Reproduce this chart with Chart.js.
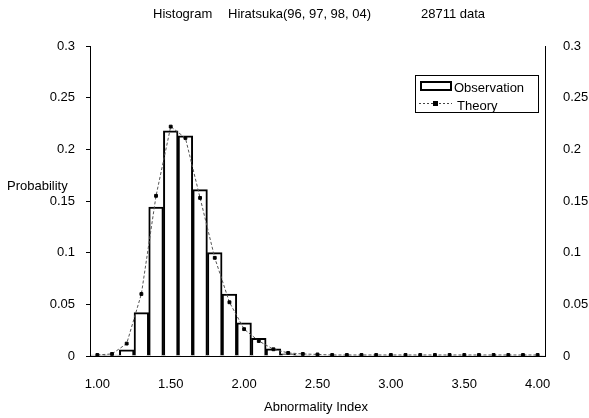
<!DOCTYPE html>
<html>
<head>
<meta charset="utf-8">
<script src="https://cdn.jsdelivr.net/npm/chart.js@4/dist/chart.umd.min.js"></script>
<style>
  html, body { margin: 0; padding: 0; background: #fff; }
  #wrap { width: 589px; height: 418px; }
</style>
</head>
<body>
<div id="wrap"><canvas id="histo" width="589" height="418"></canvas></div>
<script>
// abnormality index bins (0.1 wide)
const categories = [
    "1.00", "1.10", "1.20", "1.30", "1.40", "1.50", "1.60", "1.70", "1.80", "1.90",
    "2.00", "2.10", "2.20", "2.30", "2.40", "2.50", "2.60", "2.70", "2.80", "2.90",
    "3.00", "3.10", "3.20", "3.30", "3.40", "3.50", "3.60", "3.70", "3.80", "3.90",
    "4.00"
];
const tickLabels = ["1.00", "1.50", "2.00", "2.50", "3.00", "3.50", "4.00"];

const observation = [
    0.001, 0.001, 0.006, 0.042, 0.144, 0.218, 0.213, 0.161, 0.100, 0.060,
    0.032, 0.017, 0.007, 0.002, 0.001, 0.0005, 0.0005, 0.0005, 0.0005, 0.0005,
    0.0005, 0.0005, 0.0005, 0.0005, 0.0005, 0.0005, 0.0005, 0.0005, 0.0005, 0.0005,
    0.0005
];
const theory = [
    0.001, 0.002, 0.012, 0.060, 0.155, 0.222, 0.211, 0.153, 0.095, 0.052,
    0.026, 0.0145, 0.0065, 0.003, 0.002, 0.0015, 0.001, 0.001, 0.001, 0.001,
    0.001, 0.001, 0.001, 0.001, 0.001, 0.001, 0.001, 0.001, 0.001, 0.001,
    0.001
];

const FONT = "'Liberation Sans', Arial, sans-serif";

// titles and the boxed legend are drawn by hand
const extras = {
    id: "extras",
    afterDraw(chart) {
        const c = chart.ctx;
        c.save();
        c.fillStyle = "#000";
        c.font = "13px " + FONT;
        c.textBaseline = "middle";
        c.textAlign = "left";
        c.fillText("Histogram", 153, 14);
        c.fillText("Hiratsuka(96, 97, 98, 04)", 228, 14);
        c.fillText("28711 data", 421, 14);
        c.textAlign = "center";
        c.fillText("Abnormality Index", 316, 407);
        c.textAlign = "left";
        c.fillText("Probability", 7, 186);

        // legend
        c.strokeStyle = "#000";
        c.lineWidth = 1;
        c.strokeRect(415.5, 75.5, 123, 37);
        c.fillStyle = "#fff";
        c.lineWidth = 2;
        c.fillRect(421, 82, 30, 8);
        c.strokeRect(421, 82, 30, 8);
        c.lineWidth = 1;
        c.strokeStyle = "#444";
        c.setLineDash([2, 2]);
        c.beginPath();
        c.moveTo(419, 103.5);
        c.lineTo(452, 103.5);
        c.stroke();
        c.setLineDash([]);
        c.fillStyle = "#000";
        c.fillRect(433, 101, 5, 5);
        c.font = "13px " + FONT;
        c.fillText("Observation", 454, 88);
        c.fillText("Theory", 457, 106);
        c.restore();
    }
};

const ctx = document.getElementById("histo").getContext("2d");
new Chart(ctx, {
    type: "bar",
    data: {
        labels: categories,
        datasets: [{
            type: "line",
            label: "Theory",
            data: theory,
            borderColor: "#555",
            borderWidth: 1,
            borderDash: [3, 2],
            pointStyle: "rect",
            pointRadius: 2,
            pointBackgroundColor: "#000",
            pointBorderColor: "#000",
            tension: 0,
            order: 0
        }, {
            label: "Observation",
            data: observation,
            backgroundColor: "#fff",
            borderColor: "#000",
            borderWidth: 2,
            borderSkipped: "start",
            categoryPercentage: 1,
            barPercentage: 1,
            order: 1
        }]
    },
    options: {
        responsive: false,
        animation: false,
        layout: { padding: { top: 46, left: 0, right: 0, bottom: 0 } },
        plugins: {
            legend: { display: false },
            title: { display: false },
            tooltip: { enabled: false }
        },
        scales: {
            x: {
                type: "category",
                offset: true,
                grid: { display: false },
                border: { color: "#000", width: 1 },
                ticks: {
                    autoSkip: false,
                    maxRotation: 0,
                    padding: 13,
                    color: "#000",
                    font: { size: 13, family: FONT },
                    callback: function (value, index) {
                        const lbl = categories[index];
                        return tickLabels.includes(lbl) ? lbl : "";
                    }
                },
                afterFit(scale) { scale.height = 62; }
            },
            y: {
                position: "left",
                min: 0,
                max: 0.3,
                grid: { drawOnChartArea: false, drawTicks: true, tickLength: 4, color: "#000" },
                border: { color: "#000", width: 1 },
                ticks: {
                    stepSize: 0.05,
                    padding: 11,
                    color: "#000",
                    font: { size: 13, family: FONT },
                    callback: v => String(+v.toFixed(2))
                },
                afterFit(scale) { scale.width = 90; }
            },
            y2: {
                position: "right",
                min: 0,
                max: 0.3,
                grid: { display: false },
                border: { color: "#000", width: 1 },
                ticks: {
                    stepSize: 0.05,
                    padding: 10,
                    color: "#000",
                    font: { size: 13, family: FONT },
                    callback: v => String(+v.toFixed(2))
                },
                afterFit(scale) { scale.width = 44; }
            }
        }
    },
    plugins: [extras]
});
</script>
</body>
</html>
